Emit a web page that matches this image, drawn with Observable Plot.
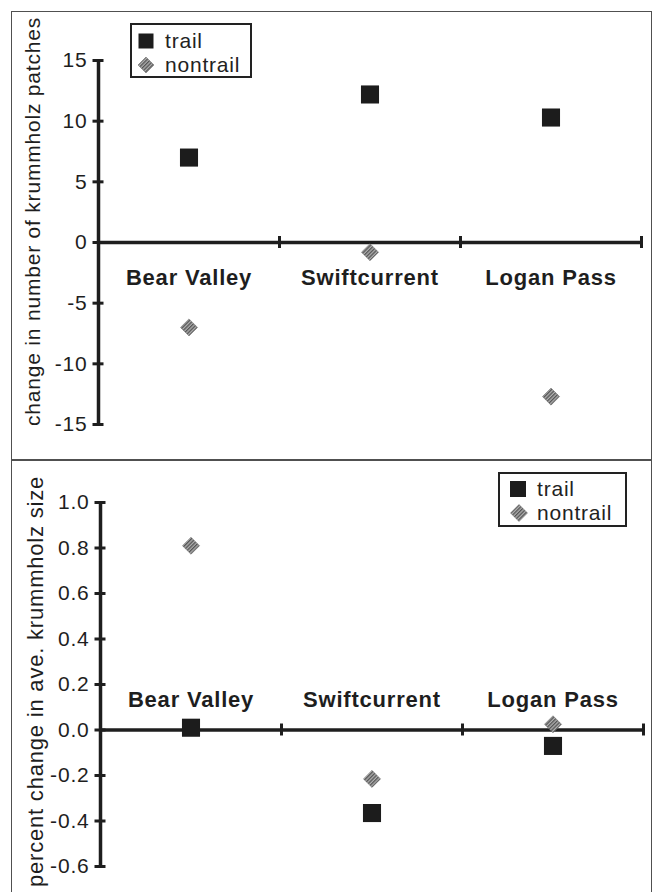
<!DOCTYPE html>
<html>
<head>
<meta charset="utf-8">
<script src="https://cdn.jsdelivr.net/npm/d3@7"></script>
<script src="https://cdn.jsdelivr.net/npm/@observablehq/plot@0.6"></script>
<style>
  html, body { margin: 0; padding: 0; background: #fff; width: 652px; height: 892px; overflow: hidden; }
  #wrap { position: relative; width: 652px; height: 892px; font-family: "Liberation Sans", Arial, Helvetica, sans-serif; }
  .frame { position: absolute; border: 1.5px solid #505050; box-sizing: border-box; pointer-events: none; }
  .chart { position: absolute; left: 12px; }
  .chart svg text { letter-spacing: 0.8px; }
  .legend { position: absolute; border: 2px solid #222; box-sizing: border-box; background: #fff; }
  .legend .sym { position: absolute; }
  .legend .lab { position: absolute; font-size: 21px; letter-spacing: 0.8px; color: #222; line-height: 1; transform: translateY(-50%); white-space: nowrap; }
</style>
</head>
<body>
<div id="wrap">
  <div id="top" class="chart" style="top:12px"></div>
  <div id="bottom" class="chart" style="top:459px"></div>
  <div class="frame" style="left:11px; top:11px; width:641px; height:449.5px"></div>
  <div class="frame" style="left:11px; top:458.5px; width:641px; height:445px"></div>
</div>
<script>
// ---- data ----
const sites = ["Bear Valley", "Swiftcurrent", "Logan Pass"];
const series = ["trail", "nontrail"];
const patchTrail = [7, 12.2, 10.3];
const patchNontrail = [-7, -0.8, -12.7];
const sizeTrail = [0.01, -0.365, -0.07];
const sizeNontrail = [0.81, -0.215, 0.025];
const patchTicks = [-15, -10, -5, 0, 5, 10, 15];
const sizeTicks = [-0.6, -0.4, -0.2, 0.0, 0.2, 0.4, 0.6, 0.8, 1.0];
const patchLabel = "change in number of krummholz patches";
const sizeLabel = "percent change in ave. krummholz size";

const INK = "#1e1e1e";

function addPattern(svg, id) {
  const ns = "http://www.w3.org/2000/svg";
  const defs = document.createElementNS(ns, "defs");
  const pat = document.createElementNS(ns, "pattern");
  pat.setAttribute("id", id);
  pat.setAttribute("width", "2.6");
  pat.setAttribute("height", "2.6");
  pat.setAttribute("patternUnits", "userSpaceOnUse");
  pat.setAttribute("patternTransform", "rotate(45)");
  const r1 = document.createElementNS(ns, "rect");
  r1.setAttribute("width", "2.6"); r1.setAttribute("height", "2.6"); r1.setAttribute("fill", "#b0b0b0");
  const r2 = document.createElementNS(ns, "rect");
  r2.setAttribute("width", "1.3"); r2.setAttribute("height", "2.6"); r2.setAttribute("fill", "#555");
  pat.appendChild(r1); pat.appendChild(r2); defs.appendChild(pat);
  svg.insertBefore(defs, svg.firstChild);
}

function panel(o) {
  const rows = sites.map((s, i) => ({site: s, pos: i + 0.5, trail: o.trail[i], nontrail: o.nontrail[i]}));
  const innerW = o.width - o.marginLeft - o.marginRight;
  const innerH = o.height - o.marginTop - o.marginBottom;
  const hx = 5.5 / (innerW / sites.length);
  const hy = 6 / (innerH / (o.yDomain[1] - o.yDomain[0]));
  const bounds = d3.range(1, sites.length + 1);
  const svg = Plot.plot({
    width: o.width, height: o.height,
    marginLeft: o.marginLeft, marginRight: o.marginRight,
    marginTop: o.marginTop, marginBottom: o.marginBottom,
    style: {fontFamily: "'Liberation Sans', Arial, Helvetica, sans-serif", fontSize: "21px", background: "transparent", color: INK, overflow: "visible"},
    x: {domain: [0, sites.length], axis: null},
    y: {domain: o.yDomain, axis: null},
    marks: [
      Plot.ruleY([0], {x1: 0, x2: sites.length, stroke: INK, strokeWidth: 3.5}),
      Plot.ruleX([0], {y1: o.yDomain[0], y2: o.yDomain[1], stroke: INK, strokeWidth: 3.5}),
      Plot.ruleY(o.ticks, {y: d => d, x1: -hx, x2: hx, stroke: INK, strokeWidth: 3}),
      Plot.ruleX(bounds, {x: d => d, y1: -hy, y2: hy, stroke: INK, strokeWidth: 3}),
      Plot.text(o.ticks, {x: 0, y: d => d, text: o.fmt, textAnchor: "end", dx: -11, fontSize: 21, fill: INK}),
      Plot.text(rows, {x: "pos", y: 0, text: "site", dy: o.siteDy, fontWeight: "bold", fontSize: 22, fill: INK}),
      Plot.text([o.label], {frameAnchor: "left", text: d => d, textAnchor: "middle", lineAnchor: "middle", rotate: -90, dx: -65, dy: o.labelDy, fontSize: o.labelSize, fill: INK}),
      Plot.dot(rows, {x: "pos", y: "nontrail", symbol: "diamond2", r: 7.7, fill: `url(#${o.pid})`, stroke: "#666", strokeWidth: 0.5}),
      Plot.dot(rows, {x: "pos", y: "trail", symbol: "square", r: 10.2, fill: "#1c1c1c", stroke: "none"})
    ]
  });
  addPattern(svg, o.pid);
  return svg;
}

document.getElementById("top").appendChild(panel({
  width: 638, height: 447, marginLeft: 86, marginRight: 9, marginTop: 48, marginBottom: 35,
  yDomain: [-15, 15], ticks: patchTicks, fmt: d => String(d),
  trail: patchTrail, nontrail: patchNontrail,
  label: patchLabel, labelDy: -21, labelSize: 21, siteDy: 35, pid: "hatchTop"
}));

document.getElementById("bottom").appendChild(panel({
  width: 638, height: 433, marginLeft: 88, marginRight: 7, marginTop: 43, marginBottom: 26,
  yDomain: [-0.6, 1.0], ticks: sizeTicks, fmt: d => d.toFixed(1),
  trail: sizeTrail, nontrail: sizeNontrail,
  label: sizeLabel, labelDy: -3, labelSize: 22, siteDy: -30, pid: "hatchBottom"
}));

// ---- legends ----
function legend(box, items) {
  const el = document.createElement("div");
  el.className = "legend";
  Object.assign(el.style, {left: box.left + "px", top: box.top + "px", width: box.w + "px", height: box.h + "px"});
  series.forEach((name, i) => {
    const it = items[i];
    const s = document.createElementNS("http://www.w3.org/2000/svg", "svg");
    s.setAttribute("class", "sym");
    s.setAttribute("width", 20); s.setAttribute("height", 20);
    s.style.left = (it.cx - 10) + "px"; s.style.top = (it.cy - 10) + "px";
    if (name === "trail") {
      s.innerHTML = `<rect x="${10 - box.sq / 2}" y="${10 - box.sq / 2}" width="${box.sq}" height="${box.sq}" fill="#1c1c1c"/>`;
    } else {
      const r = box.dm;
      s.innerHTML = `<defs><pattern id="lh${box.left}" width="2.6" height="2.6" patternUnits="userSpaceOnUse" patternTransform="rotate(45)"><rect width="2.6" height="2.6" fill="#b0b0b0"/><rect width="1.3" height="2.6" fill="#555"/></pattern></defs><path d="M10,${10 - r}L${10 + r},10L10,${10 + r}L${10 - r},10Z" fill="url(#lh${box.left})" stroke="#666" stroke-width="0.5"/>`;
    }
    el.appendChild(s);
    const t = document.createElement("div");
    t.className = "lab";
    t.textContent = name;
    t.style.left = box.tx + "px";
    t.style.top = (it.cy - 1) + "px";
    el.appendChild(t);
  });
  document.getElementById("wrap").appendChild(el);
}

legend({left: 130, top: 23, w: 122, h: 55, tx: 33, sq: 15, dm: 8}, [{cx: 14, cy: 16}, {cx: 14, cy: 40}]);
legend({left: 498, top: 472, w: 129, h: 55, tx: 37, sq: 16, dm: 8.5}, [{cx: 18, cy: 15}, {cx: 19, cy: 39}]);
</script>
</body>
</html>
